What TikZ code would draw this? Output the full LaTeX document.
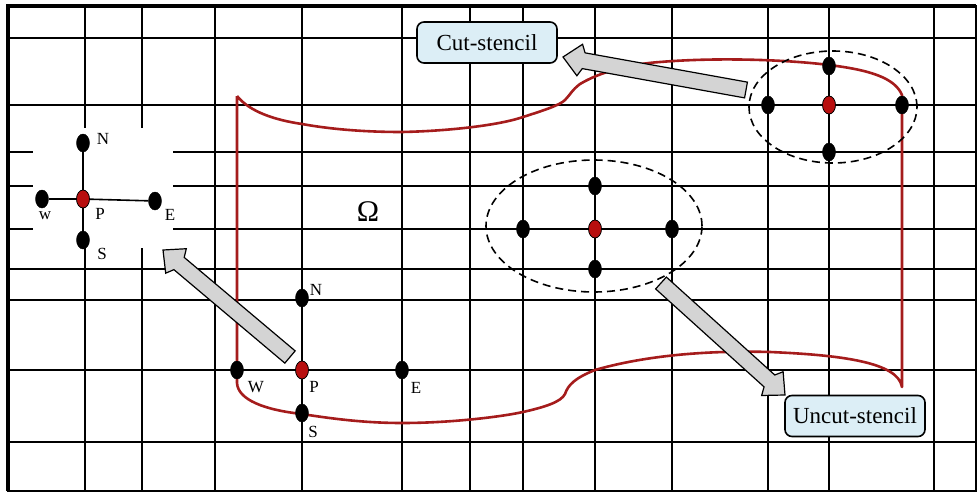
\documentclass[tikz,border=0pt]{standalone}
\usepackage{fontspec}
\setmainfont{Liberation Serif}
\usetikzlibrary{calc,shapes.geometric}
\definecolor{bnd}{HTML}{A51C1C}
\definecolor{pred}{HTML}{B80F0F}
\definecolor{boxfill}{HTML}{DCEEF6}
\definecolor{arrfill}{HTML}{D4D4D4}
\tikzset{
  gridline/.style={line width=1.8pt, black},
  blk/.style={ellipse, fill=black, draw=black, minimum width=13pt, minimum height=18pt, inner sep=0pt},
  rdp/.style={blk, fill=pred, line width=0.8pt},
  lbl/.style={font=\fontsize{17}{19}\selectfont, inner sep=0pt},
  stencilbox/.style={draw=black, line width=1.6pt, fill=boxfill, rounded corners=7pt,
    minimum width=140pt, minimum height=41pt, font=\fontsize{23}{25}\selectfont, inner sep=0pt},
  dashell/.style={draw=black, dash pattern=on 8pt off 5pt, line width=1.6pt},
  bound/.style={draw=bnd, line width=2.6pt, line join=round},
  blockarr/.style={draw=black, line width=1.2pt, fill=arrfill, line join=miter},
  stline/.style={line width=1.6pt, black}
}
\newcommand\blockarrow[2]{%
  \coordinate (#1-nk) at ($(#2)!21pt!(#1)$);
  \coordinate (#1-bb) at ($(#2)!17pt!(#1)$);
  \path[blockarr] ($(#1)!8pt!90:(#2)$) -- ($(#1-nk)!8pt!90:(#2)$) -- ($(#1-bb)!16pt!90:(#2)$)
    -- (#2) -- ($(#1-bb)!16pt!-90:(#2)$) -- ($(#1-nk)!8pt!-90:(#2)$) -- ($(#1)!8pt!-90:(#2)$) -- cycle;
}
\begin{document}
\begin{tikzpicture}[x=1pt,y=-1pt]
\useasboundingbox (0,0) rectangle (978,493);
\fill[white] (0,0) rectangle (978,493);
% grid
\foreach \gx in {85,142,215,302,402,470,523,595,672,768,829,934}
  \draw[gridline] (\gx,6) -- (\gx,491);
\foreach \gy in {38,105,152,186,229,269,300,370,442}
  \draw[gridline] (8,\gy) -- (976,\gy);
% white patch behind inset
\fill[white] (33,128) rectangle (173,248);
% border
\draw[line width=1.5pt] (8,6) rectangle (976,491);
\draw[line width=3.4pt] (8,491) -- (8,6) -- (976,6);
% boundary of Omega
\draw[bound] (237,96) -- (237,383)
  .. controls (238,400) and (265,410) .. (302,414)
  .. controls (340,420) and (370,423) .. (402,423)
  .. controls (450,423) and (500,417) .. (523,412)
  .. controls (545,407) and (561,402) .. (565,394)
  .. controls (568,385) and (575,378) .. (595,370)
  .. controls (640,357) and (700,350) .. (770,352)
  .. controls (840,355) and (898,362) .. (902,387)
  -- (902,95)
  .. controls (895,78) and (870,70) .. (829,65)
  .. controls (790,60) and (720,57) .. (660,62)
  .. controls (630,64) and (600,72) .. (580,84)
  .. controls (572,90) and (570,95) .. (565,100)
  .. controls (560,105) and (545,110) .. (523,117)
  .. controls (500,125) and (450,131) .. (402,132)
  .. controls (370,132) and (335,130) .. (302,124)
  .. controls (275,120) and (250,112) .. (237,96);
% dashed stencil ellipses
\draw[dashell] (594,226) ellipse [x radius=108pt, y radius=66pt];
\draw[dashell] (833,107) ellipse [x radius=84pt, y radius=56pt];
% inset stencil
\node[blk] (iN) at (83,143) {};
\node[blk] (iW) at (42,199) {};
\node[rdp] (iP) at (83,199) {};
\node[blk] (iE) at (155,201) {};
\node[blk] (iS) at (83,240) {};
\draw[stline] (iN) -- (iP);
\draw[stline] (iP) -- (iS);
\draw[stline] (iW) -- (iP);
\draw[stline] (iP) -- (iE);
\node[lbl] (liN) at (103,139) {N};
\node[lbl] (liW) at (45,216) {w};
\node[lbl] (liP) at (100,214) {P};
\node[lbl] (liE) at (170,215) {E};
\node[lbl] (liS) at (102,254) {S};
% main stencil at boundary
\node[blk] (mW) at (237,370) {};
\node[rdp] (mP) at (302,370) {};
\node[blk] (mN) at (302,298) {};
\node[blk] (mS) at (302,413) {};
\node[blk] (mE) at (402,370) {};
\node[lbl] (lmN) at (316,290) {N};
\node[lbl] (lmW) at (256,387) {W};
\node[lbl] (lmP) at (314,387) {P};
\node[lbl] (lmS) at (313,432) {S};
\node[lbl] (lmE) at (416,388) {E};
% uncut stencil
\node[blk] (uN) at (595,186) {};
\node[blk] (uW) at (523,229) {};
\node[rdp] (uP) at (595,229) {};
\node[blk] (uE) at (672,229) {};
\node[blk] (uS) at (595,269) {};
% cut stencil
\node[blk] (cN) at (829,66) {};
\node[blk] (cW) at (768,105) {};
\node[rdp] (cP) at (829,105) {};
\node[blk] (cE) at (902,105) {};
\node[blk] (cS) at (829,152) {};
% Omega
\node[inner sep=0pt, font=\fontsize{30}{32}\selectfont] (om) at (368,212) {Ω};
% boxes
\node[stencilbox] (cutbox) at (487,42.5) {Cut-stencil};
\node[stencilbox] (uncutbox) at (855,416) {Uncut-stencil};
% block arrows
\coordinate (a1t) at (746,90);
\coordinate (a1h) at (563,57);
\coordinate (a2t) at (290,357);
\coordinate (a2h) at (163,250);
\coordinate (a3t) at (661,283);
\coordinate (a3h) at (785,395);
\blockarrow{a1t}{a1h}
\blockarrow{a2t}{a2h}
\blockarrow{a3t}{a3h}
\end{tikzpicture}
\end{document}
